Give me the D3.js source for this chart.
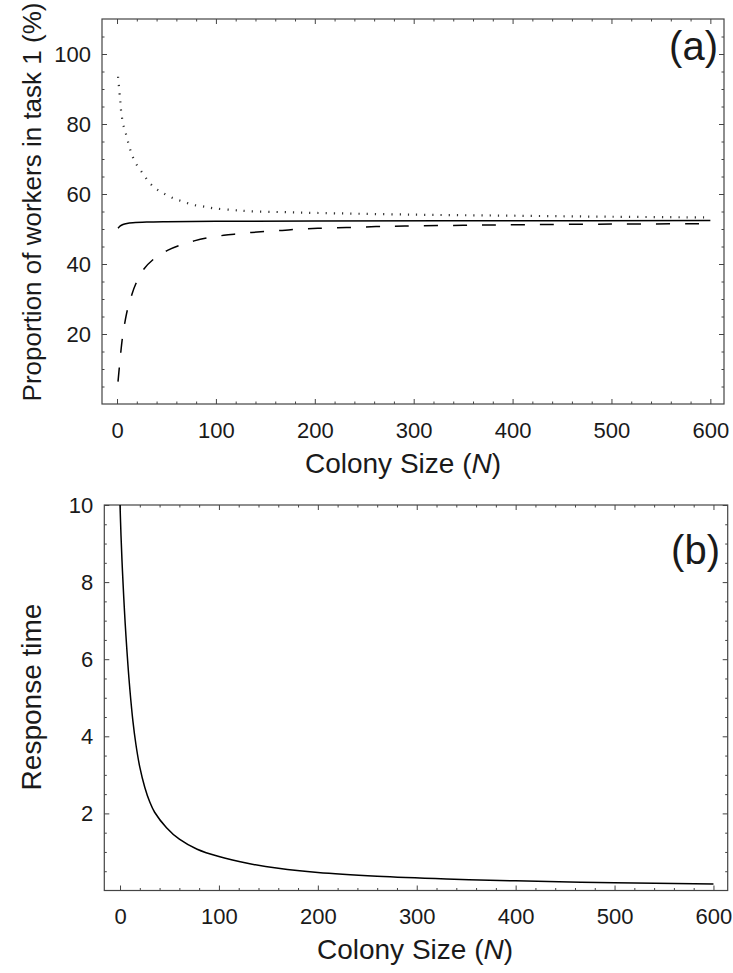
<!DOCTYPE html>
<html>
<head>
<meta charset="utf-8">
<script src="https://cdn.jsdelivr.net/npm/d3@7"></script>
<style>
  html, body { margin: 0; padding: 0; background: #fff; }
  svg { display: block; }
  text { font-family: "Liberation Sans", Arial, Helvetica, sans-serif; fill: #1a1a1a; }
</style>
</head>
<body>
<svg id="chart" width="733" height="973"></svg>
<script>
// ---------- DATA ----------
// Panel (a): proportion of workers in task 1 (%) vs colony size N
const solidN   = [1, 3, 6, 10, 16, 30, 50, 100, 200, 400, 600];
const solidV   = [50.2, 50.8, 51.3, 51.6, 51.8, 52.0, 52.1, 52.2, 52.3, 52.35, 52.4];

const dottedN  = [1, 3, 4, 6, 9, 12, 15, 20, 26, 32, 39, 47, 57, 67, 77, 88, 98, 118, 133, 170, 200, 300, 400, 500, 600];
const dottedV  = [93.5, 87.5, 84, 80.2, 77.2, 74, 71.2, 68.3, 65.9, 63.5, 61.6, 60.2, 58.8, 57.8, 56.9, 56.4, 55.9, 55.4, 55.1, 54.8, 54.6, 54.1, 53.8, 53.5, 53.3];

const dashedN  = [1, 2.5, 3.7, 5.4, 7.8, 10.5, 14.8, 18.8, 27, 37, 51, 63, 78, 92, 108, 121, 136, 150, 167, 182, 203, 232, 262, 291, 350, 403, 500, 600];
const dashedV  = [6.4, 11.0, 14.5, 18.8, 23.1, 26.9, 31.1, 34.2, 38.5, 41.4, 43.9, 45.3, 46.6, 47.5, 48.2, 48.6, 49.0, 49.3, 49.6, 49.9, 50.2, 50.4, 50.7, 50.85, 51.05, 51.2, 51.4, 51.5];

// Panel (b): response time vs colony size N
const respN    = [0, 1, 2, 3, 4.5, 6, 8, 10, 13, 16, 20, 25, 30, 35, 47, 60, 78, 100, 130, 160, 200, 260, 330, 400, 500, 600];
const respV    = [10, 9.2, 8.55, 8.0, 7.25, 6.6, 5.85, 5.2, 4.4, 3.8, 3.2, 2.68, 2.3, 2.03, 1.63, 1.33, 1.07, 0.88, 0.70, 0.575, 0.465, 0.37, 0.30, 0.25, 0.20, 0.17];

// Tick values
const xMajorTicks  = [0, 100, 200, 300, 400, 500, 600];
const xMinorTicks  = d3.range(0, 601, 20);
const yaMajorTicks = [20, 40, 60, 80, 100];
const yaMinorTicks = d3.range(5, 110, 5);
const ybMajorTicks = [2, 4, 6, 8, 10];
const ybMinorTicks = d3.range(0.5, 10, 0.5);

// Labels
const yTitleA = "Proportion of workers in task 1 (%)";
const yTitleB = "Response time";
const xTitleMain = "Colony Size (";
const xTitleVar = "N";
const panelLabels = ["(a)", "(b)"];

// ---------- DRAW ----------
const svg = d3.select("#chart");
svg.append("rect").attr("width", 733).attr("height", 973).attr("fill", "#fff");

const frameColor = "#444";
const MAJ = 5, MIN = 2.5;

function panel(cfg) {
  const x = d3.scaleLinear().domain(cfg.xDomain).range([cfg.left, cfg.right]);
  const y = d3.scaleLinear().domain(cfg.yDomain).range([cfg.bottom, cfg.top]);
  const g = svg.append("g");

  const clipId = "clip" + cfg.id;
  svg.append("defs").append("clipPath").attr("id", clipId)
    .append("rect").attr("x", cfg.left).attr("y", cfg.top)
    .attr("width", cfg.right - cfg.left).attr("height", cfg.bottom - cfg.top);

  function styleAxis(sel) {
    sel.select(".domain").remove();
    sel.selectAll(".tick line").attr("stroke", frameColor).attr("stroke-width", 1);
    sel.selectAll(".tick text").attr("font-size", 22).attr("fill", "#1a1a1a")
      .attr("font-family", '"Liberation Sans", Arial, Helvetica, sans-serif');
  }
  const notIn = arr => v => !arr.includes(v);

  // bottom
  g.append("g").attr("transform", `translate(0,${cfg.bottom})`)
    .call(d3.axisBottom(x).tickValues(xMajorTicks).tickSize(-MAJ).tickPadding(18).tickFormat(d3.format("d")))
    .call(styleAxis);
  g.append("g").attr("transform", `translate(0,${cfg.bottom})`)
    .call(d3.axisBottom(x).tickValues(xMinorTicks.filter(notIn(xMajorTicks))).tickSize(-MIN).tickFormat(""))
    .call(styleAxis);
  // top
  g.append("g").attr("transform", `translate(0,${cfg.top})`)
    .call(d3.axisTop(x).tickValues(xMajorTicks).tickSize(-MAJ).tickFormat(""))
    .call(styleAxis);
  g.append("g").attr("transform", `translate(0,${cfg.top})`)
    .call(d3.axisTop(x).tickValues(xMinorTicks.filter(notIn(xMajorTicks))).tickSize(-MIN).tickFormat(""))
    .call(styleAxis);
  // left
  g.append("g").attr("transform", `translate(${cfg.left},0)`)
    .call(d3.axisLeft(y).tickValues(cfg.yMajor).tickSize(-MAJ).tickPadding(11).tickFormat(d3.format("d")))
    .call(styleAxis);
  g.append("g").attr("transform", `translate(${cfg.left},0)`)
    .call(d3.axisLeft(y).tickValues(cfg.yMinor.filter(notIn(cfg.yMajor))).tickSize(-MIN).tickFormat(""))
    .call(styleAxis);
  // right
  g.append("g").attr("transform", `translate(${cfg.right},0)`)
    .call(d3.axisRight(y).tickValues(cfg.yMajor).tickSize(-MAJ).tickFormat(""))
    .call(styleAxis);
  g.append("g").attr("transform", `translate(${cfg.right},0)`)
    .call(d3.axisRight(y).tickValues(cfg.yMinor.filter(notIn(cfg.yMajor))).tickSize(-MIN).tickFormat(""))
    .call(styleAxis);

  // frame
  g.append("rect").attr("x", cfg.left).attr("y", cfg.top)
    .attr("width", cfg.right - cfg.left).attr("height", cfg.bottom - cfg.top)
    .attr("fill", "none").attr("stroke", frameColor).attr("stroke-width", 1.2);

  // curves
  const line = d3.line().x(d => x(d[0])).y(d => y(d[1])).curve(d3.curveCatmullRom.alpha(0.5));
  const cg = g.append("g").attr("clip-path", `url(#${clipId})`);
  cfg.series.forEach(s => {
    cg.append("path")
      .datum(d3.zip(s.n, s.v))
      .attr("d", line)
      .attr("fill", "none")
      .attr("stroke", s.color || "#000")
      .attr("stroke-width", s.width || 1.5)
      .attr("stroke-dasharray", s.dash || null);
  });

  // y title
  g.append("text")
    .attr("transform", `translate(${cfg.yTitleX},${cfg.yTitleY}) rotate(-90)`)
    .attr("text-anchor", "middle")
    .attr("font-size", cfg.yTitleSize)
    .text(cfg.yTitle);

  // x title
  const xt = g.append("text")
    .attr("x", cfg.xTitleX).attr("y", cfg.xTitleY)
    .attr("text-anchor", "middle").attr("font-size", 28);
  xt.append("tspan").text(xTitleMain);
  xt.append("tspan").attr("font-style", "italic").text(xTitleVar);
  xt.append("tspan").text(")");

  // panel label
  g.append("text")
    .attr("x", cfg.labelX).attr("y", cfg.labelY)
    .attr("text-anchor", "end").attr("font-size", 40)
    .text(cfg.label);
}

panel({
  id: "a",
  left: 102, right: 724, top: 19, bottom: 404,
  xDomain: [-15.2, 613.8], yDomain: [0, 110],
  yMajor: yaMajorTicks, yMinor: yaMinorTicks,
  series: [
    { n: dottedN, v: dottedV, dash: "1.2,7", width: 2.2, color: "#333" },
    { n: solidN, v: solidV },
    { n: dashedN, v: dashedV, dash: "14,15" }
  ],
  yTitle: yTitleA, yTitleX: 41, yTitleY: 202, yTitleSize: 26,
  xTitleX: 403, xTitleY: 473,
  label: panelLabels[0], labelX: 718, labelY: 60
});

panel({
  id: "b",
  left: 104.3, right: 727.7, top: 505, bottom: 890.5,
  xDomain: [-15.9, 614.4], yDomain: [0, 10],
  yMajor: ybMajorTicks, yMinor: ybMinorTicks,
  series: [
    { n: respN, v: respV }
  ],
  yTitle: yTitleB, yTitleX: 41, yTitleY: 697, yTitleSize: 28,
  xTitleX: 415, xTitleY: 959,
  label: panelLabels[1], labelX: 720, labelY: 564
});
</script>
</body>
</html>
